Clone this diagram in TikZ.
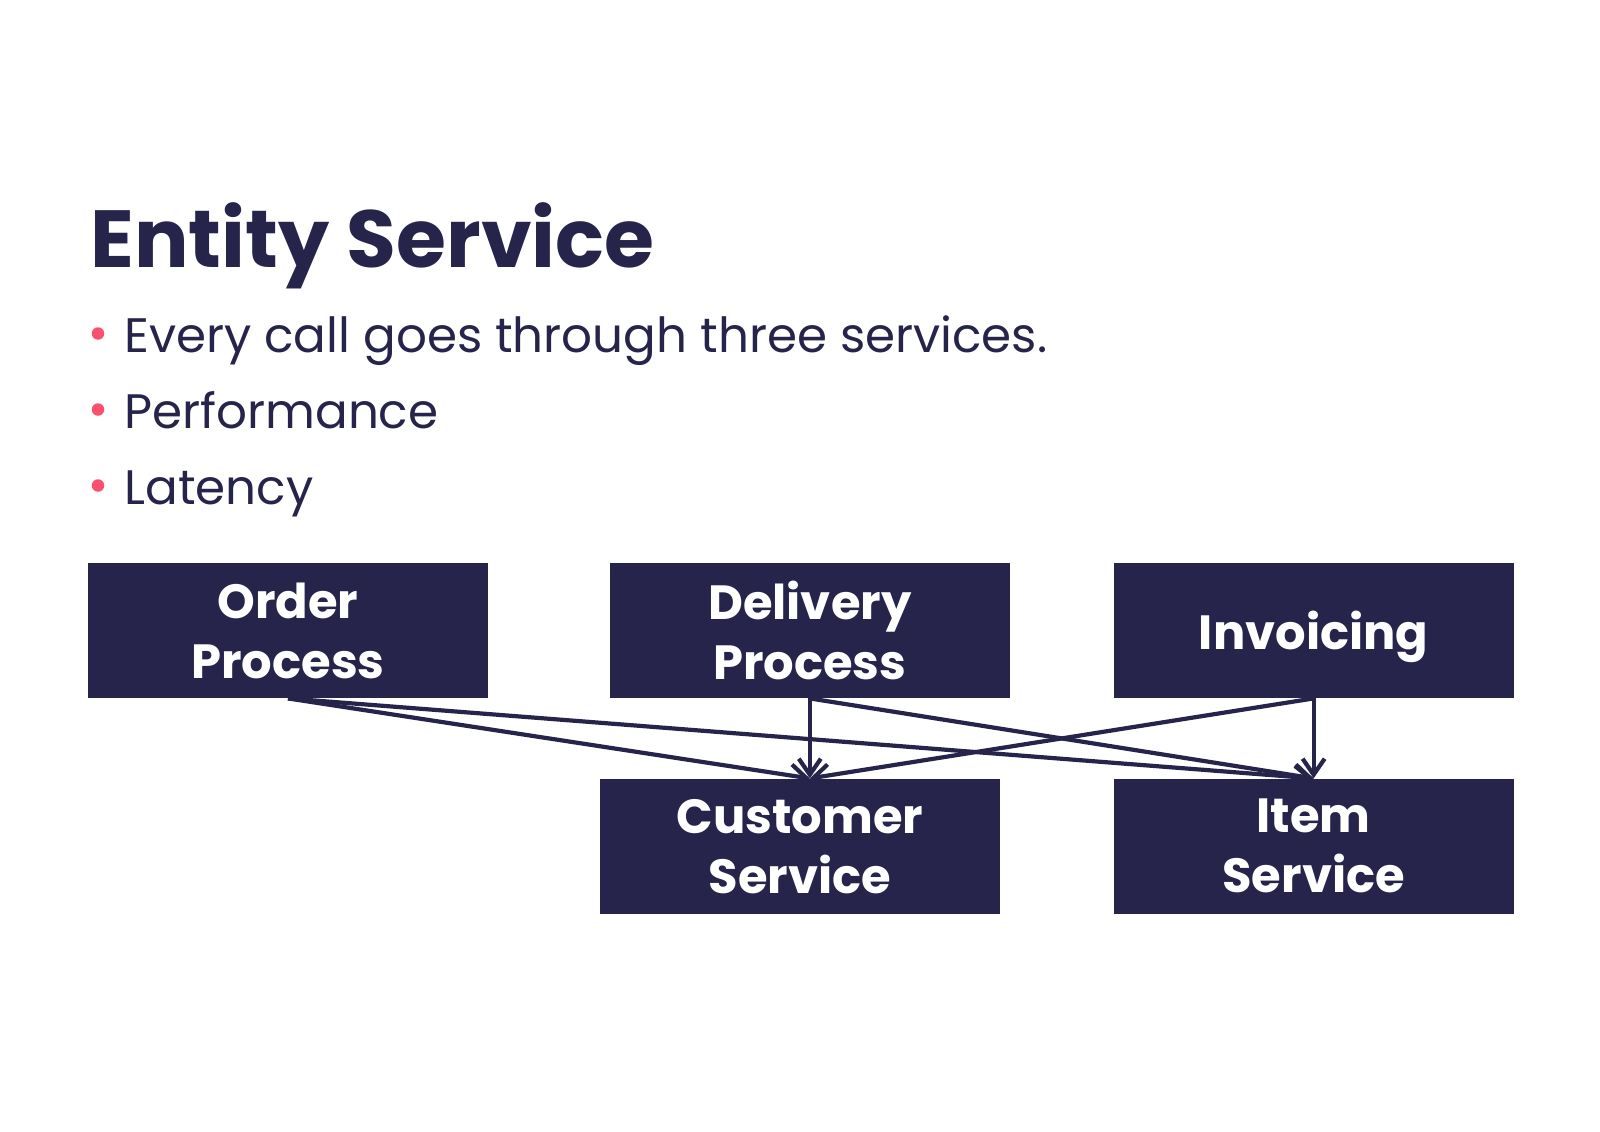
\documentclass[tikz,border=0pt]{standalone}
\usepackage{fontspec}
\setmainfont{Poppins}
\usetikzlibrary{arrows.meta,positioning}
\definecolor{navy}{HTML}{26244B}
\definecolor{dotpink}{HTML}{FA506E}

\begin{document}
\begin{tikzpicture}
[x=0.5pt,y=-0.5pt,
svcbox/.style={shape=rectangle,fill=navy,text=white,minimum width=200pt,minimum height=67.5pt,align=center,inner sep=0pt,font=\bfseries\fontsize{24}{30}\selectfont},
dot/.style={shape=circle,fill=dotpink,minimum size=6.25pt,inner sep=0pt},
pointtext/.style={anchor=base west,inner sep=0pt,text=navy,font=\fontsize{24.2}{30}\selectfont},
link/.style={draw=navy,line width=2.1pt,-{Straight Barb[length=8pt,width=11pt]}}]

\useasboundingbox (0,0) rectangle (1600,1131);

\node (title) [anchor=base west,inner sep=0pt,text=navy,font=\bfseries\fontsize{40.5}{49}\selectfont] at (90,267) {Entity Service};

\node (d1) [dot] at (98,333.5) {};
\node (d2) [dot] at (98,409.5) {};
\node (d3) [dot] at (98,485.5) {};
\node (p1) [pointtext] at (124,352) {Every call goes through three services.};
\node (p2) [pointtext] at (124,428) {Performance};
\node (p3) [pointtext] at (124,504) {Latency};

\node (order) [svcbox] at (288,630.5) {Order\\Process};
\node (delivery) [svcbox,right=60.5pt of order] {Delivery\\Process};
\node (invoicing) [svcbox,right=51.5pt of delivery,text depth=0pt] {Invoicing};
\node (itemsvc) [svcbox,below=40pt of invoicing] {Item\\Service};
\node (customer) [svcbox,left=56.5pt of itemsvc] {Customer\\Service};
\coordinate (custin) at (delivery.south |- customer.north);

\draw[link] (order.south) -- (custin);
\draw[link] (order.south) -- (itemsvc.north);
\draw[link] (delivery.south) -- (custin);
\draw[link] (delivery.south) -- (itemsvc.north);
\draw[link] (invoicing.south) -- (custin);
\draw[link] (invoicing.south) -- (itemsvc.north);

\end{tikzpicture}
\end{document}
